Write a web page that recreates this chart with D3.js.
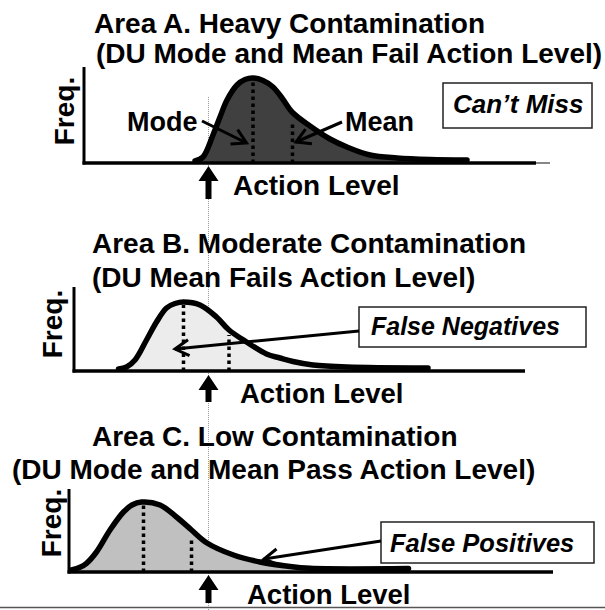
<!DOCTYPE html>
<html><head><meta charset="utf-8">
<script src="https://cdn.jsdelivr.net/npm/d3@7"></script>
<style>
body{margin:0;background:#fff}
svg{display:block}
text{font-family:"Liberation Sans",Arial,Helvetica,sans-serif;font-weight:bold;fill:#000}
</style>
</head><body>
<svg id="c" width="605" height="610"></svg>
<script>
// ================= DATA =================
const titleLine1 = ["Area A. Heavy Contamination", "Area B. Moderate Contamination", "Area C. Low Contamination"];
const titleLine2 = ["(DU Mode and Mean Fail Action Level)", "(DU Mean Fails Action Level)", "(DU Mode and Mean Pass Action Level)"];
const calloutText = ["Can\u2019t Miss", "False Negatives", "False Positives"];
const axisLabelY = "Freq.";
const axisLabelX = "Action Level";
const actionLevel = 3.0;

// concentration (x) and frequency (y)
const curveAx = [2.73, 2.89, 3.09, 3.23, 3.37, 3.57, 3.73, 3.89, 4.09, 4.29, 4.47, 4.67, 5.03, 5.43, 5.77, 6.23, 6.77, 7.43, 8.17];
const curveAy = [0.02, 0.06, 0.28, 0.46, 0.63, 0.78, 0.835, 0.85, 0.825, 0.76, 0.65, 0.51, 0.37, 0.24, 0.16, 0.08, 0.05, 0.035, 0.03];
const curveBx = [1.20, 1.36, 1.53, 1.76, 1.96, 2.16, 2.33, 2.50, 2.83, 3.16, 3.41, 3.76, 4.16, 4.43, 4.69, 5.09, 5.77, 7.39];
const curveBy = [0.02, 0.04, 0.11, 0.31, 0.49, 0.63, 0.675, 0.69, 0.66, 0.54, 0.41, 0.29, 0.17, 0.13, 0.095, 0.06, 0.04, 0.03];
const curveCx = [0.26, 0.43, 0.56, 0.76, 1.03, 1.30, 1.47, 1.66, 2.03, 2.36, 2.66, 2.97, 3.50, 4.03, 4.56, 5.03, 7.00];
const curveCy = [0.02, 0.047, 0.087, 0.20, 0.42, 0.60, 0.67, 0.70, 0.67, 0.55, 0.42, 0.29, 0.17, 0.10, 0.06, 0.037, 0.035];

const modeX = [3.89, 2.50, 1.70];
const modeTop = [0.81, 0.66, 0.69];
const meanX = [4.68, 3.41, 2.66];
const meanTop = [0.40, 0.36, 0.35];

// ================= LAYOUT / STYLE =================
const W = 605, H = 610;
const svg = d3.select("#c");
const x = d3.scaleLinear().domain([0, 10]).range([58.5, 558.5]);

const panels = [
  {xs: curveAx, ys: curveAy, fill: "#404040", axisY: 163, axisTop: 67, yAxisX: 84, axisEnd: 536, axisFade: 550,
   tx: [94, 96], tb: [33, 63],
   freq: [74, 111, 28], act: [233, 195, 28], arr: [166, 199],
   box: [443, 83, 149, 45], boxText: [453, 113, 26]},
  {xs: curveBx, ys: curveBy, fill: "#ececec", axisY: 371, axisTop: 287, yAxisX: 74, axisEnd: 525, axisFade: 525,
   tx: [92, 92], tb: [253, 287],
   freq: [62, 324, 28], act: [240, 403, 27.5], arr: [375, 402],
   box: [359, 307, 227, 40], boxText: [371, 335, 25]},
  {xs: curveCx, ys: curveCy, fill: "#c0c0c0", axisY: 572, axisTop: 489, yAxisX: 69, axisEnd: 553, axisFade: 553,
   tx: [92, 12], tb: [446, 479],
   freq: [61, 523, 28], act: [247, 604, 27.5], arr: [575, 603],
   box: [381, 522, 213, 41], boxText: [390, 552, 25.5]}
];

function arrowHead(g, x1, y1, x2, y2, len, sw) {
  const a = Math.atan2(y1 - y2, x1 - x2);
  const sp = Math.PI / 6;
  const p = d3.path();
  p.moveTo(x2 + len * Math.cos(a + sp), y2 + len * Math.sin(a + sp));
  p.lineTo(x2, y2);
  p.lineTo(x2 + len * Math.cos(a - sp), y2 + len * Math.sin(a - sp));
  g.append("path").attr("d", p.toString()).attr("fill", "none").attr("stroke", "#000")
    .attr("stroke-width", sw).attr("stroke-linejoin", "miter");
  g.append("line").attr("x1", x1).attr("y1", y1).attr("x2", x2).attr("y2", y2)
    .attr("stroke", "#000").attr("stroke-width", sw);
}

// action level reference line (shared)
svg.append("line")
  .attr("x1", x(actionLevel)).attr("x2", x(actionLevel))
  .attr("y1", 97).attr("y2", H)
  .attr("stroke", "#9a9a9a").attr("stroke-width", 1).attr("stroke-dasharray", "1,1");

panels.forEach((P, i) => {
  const g = svg.append("g");
  const y = d3.scaleLinear().domain([0, 1]).range([P.axisY, P.axisY - 100]);
  const pts = P.xs.map((v, k) => [v, P.ys[k]]);

  // area fill
  const area = d3.area().x(d => x(d[0])).y0(y(0)).y1(d => y(d[1])).curve(d3.curveCatmullRom.alpha(0.5));
  g.append("path").datum(pts).attr("d", area).attr("fill", P.fill);

  // dotted mode / mean lines
  [[modeX[i], modeTop[i]], [meanX[i], meanTop[i]]].forEach(([mx, mt]) => {
    g.append("line").attr("x1", x(mx)).attr("x2", x(mx)).attr("y1", y(0)).attr("y2", y(mt))
      .attr("stroke", "#000").attr("stroke-width", 3.5).attr("stroke-dasharray", "3.5,3.5");
  });

  // curve outline
  const line = d3.line().x(d => x(d[0])).y(d => y(d[1])).curve(d3.curveCatmullRom.alpha(0.5));
  g.append("path").datum(pts).attr("d", line).attr("fill", "none")
    .attr("stroke", "#000").attr("stroke-width", 5.5).attr("stroke-linecap", "round").attr("stroke-linejoin", "round");

  // axes
  g.append("line").attr("x1", P.yAxisX).attr("x2", P.yAxisX).attr("y1", P.axisTop).attr("y2", P.axisY + 1.5)
    .attr("stroke", "#000").attr("stroke-width", 3);
  g.append("line").attr("x1", P.yAxisX - 1.5).attr("x2", P.axisEnd).attr("y1", P.axisY).attr("y2", P.axisY)
    .attr("stroke", "#000").attr("stroke-width", 3.5);
  if (P.axisFade > P.axisEnd) {
    g.append("line").attr("x1", P.axisEnd).attr("x2", P.axisFade).attr("y1", P.axisY).attr("y2", P.axisY)
      .attr("stroke", "#888").attr("stroke-width", 2);
  }

  // titles
  g.append("text").attr("x", P.tx[0]).attr("y", P.tb[0]).attr("font-size", 28).text(titleLine1[i]);
  g.append("text").attr("x", P.tx[1]).attr("y", P.tb[1]).attr("font-size", 28).text(titleLine2[i]);

  // Freq. label
  g.append("text").attr("transform", `translate(${P.freq[0]},${P.freq[1]}) rotate(-90)`)
    .attr("text-anchor", "middle").attr("font-size", P.freq[2]).text(axisLabelY);

  // Action Level label
  g.append("text").attr("x", P.act[0]).attr("y", P.act[1]).attr("font-size", P.act[2]).text(axisLabelX);

  // up arrow at action level
  const ax = x(actionLevel), t = P.arr[0], b = P.arr[1];
  const ap = d3.path();
  ap.moveTo(ax, t); ap.lineTo(ax + 10, t + 15); ap.lineTo(ax + 3, t + 15); ap.lineTo(ax + 3, b);
  ap.lineTo(ax - 3, b); ap.lineTo(ax - 3, t + 15); ap.lineTo(ax - 10, t + 15); ap.closePath();
  g.append("path").attr("d", ap.toString()).attr("fill", "#000");

  // callout box
  g.append("rect").attr("x", P.box[0]).attr("y", P.box[1]).attr("width", P.box[2]).attr("height", P.box[3])
    .attr("fill", "#fff").attr("stroke", "#222").attr("stroke-width", 1.5);
  g.append("text").attr("x", P.boxText[0]).attr("y", P.boxText[1]).attr("font-size", P.boxText[2])
    .attr("font-style", "italic").text(calloutText[i]);

  // annotations
  if (i === 0) {
    g.append("text").attr("x", 127).attr("y", 131).attr("font-size", 27).text("Mode");
    g.append("text").attr("x", 345).attr("y", 131).attr("font-size", 27).text("Mean");
    arrowHead(g, 202, 121, x(modeX[0]) - 6.5, y(0.20), 16, 3);
    arrowHead(g, 342, 122, x(meanX[0]) + 3.5, y(0.21), 16, 3);
  } else if (i === 1) {
    arrowHead(g, P.box[0], 331, x(2.33), y(0.22), 16, 3);
  } else {
    arrowHead(g, P.box[0], 541, x(4.11), y(0.13), 16, 3);
  }
});

// bottom rule
svg.append("line").attr("x1", 0).attr("x2", W).attr("y1", 607.5).attr("y2", 607.5)
  .attr("stroke", "#555").attr("stroke-width", 1.5);
</script>
</body></html>
